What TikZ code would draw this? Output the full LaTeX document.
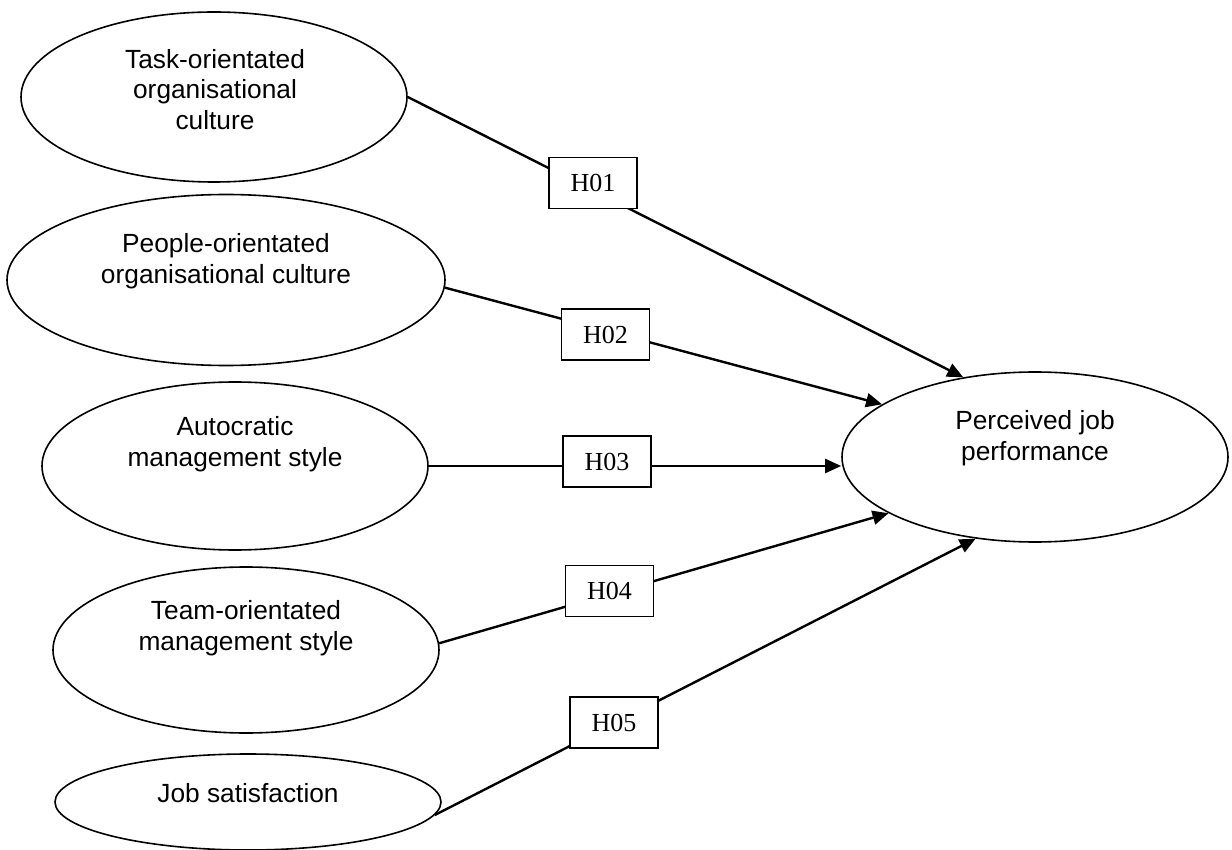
\documentclass[tikz,border=0pt]{standalone}
\usepackage{fontspec}
\setmainfont{Liberation Sans}
\newfontfamily\boxfont{Liberation Serif}
\usetikzlibrary{shapes.geometric,arrows.meta}
\begin{document}
\begin{tikzpicture}[x=1pt,y=-1pt,
  ell/.style={draw, ellipse, line width=1.6pt, inner sep=0pt},
  lbl/.style={align=center, font=\fontsize{26.3}{30.5}\selectfont, inner sep=0pt},
  hyp/.style={draw, fill=white, line width=1.6pt, minimum width=88pt, minimum height=51pt, inner sep=0pt, font=\boxfont\fontsize{26}{30}\selectfont},
  conn/.style={line width=2.4pt, -{Triangle[length=16pt,width=14pt]}}]
\useasboundingbox (0,0) rectangle (1232,850);

% ellipses
\node[ell, minimum width=386pt, minimum height=170pt] (e1) at (214,97) {};
\node[ell, minimum width=438pt, minimum height=171pt] (e2) at (226,280) {};
\node[ell, minimum width=386pt, minimum height=168pt] (e3) at (235,466) {};
\node[ell, minimum width=386pt, minimum height=166pt] (e4) at (246,650) {};
\node[ell, minimum width=386pt, minimum height=96pt] (e5) at (248,802) {};
\node[ell, minimum width=386pt, minimum height=170pt] (p) at (1035,457) {};

% texts
\node[lbl] (l1) at (215,89.5) {Task-orientated\\organisational\\culture};
\node[lbl] (l2) at (226,261) {People-orientated\\organisational culture};
\node[lbl] (l3) at (235,444) {Autocratic\\management style};
\node[lbl] (l4) at (246,628) {Team-orientated\\management style};
\node[lbl] (l5) at (248,793.5) {Job satisfaction};
\node[lbl] (lp) at (1035,438) {Perceived job\\performance};

% connectors
\draw[conn] (e1.east) -- (p.132);
\draw[conn] (e2.-2) -- (p.161);
\draw[conn] (e3.east) -- (e3.east -| p.west);
\draw[conn] (e4.2) -- (p.201);
\draw[conn] (e5.-4) -- (p.234);

% hypothesis boxes
\node[hyp] (h1) at (593,183) {H01};
\node[hyp] (h2) at (605.5,334.5) {H02};
\node[hyp] (h3) at (607,461.5) {H03};
\node[hyp] (h4) at (609.5,591) {H04};
\node[hyp] (h5) at (614,722.5) {H05};
\end{tikzpicture}
\end{document}
